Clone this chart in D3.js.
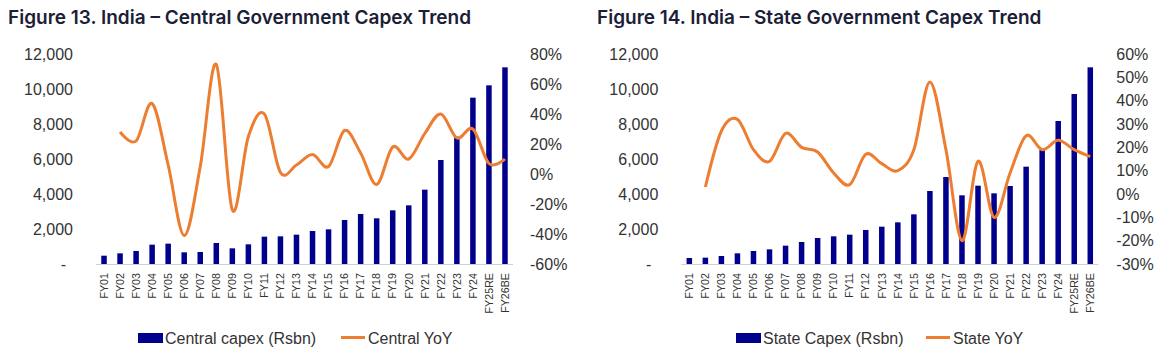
<!DOCTYPE html>
<html>
<head>
<meta charset="utf-8">
<script src="https://cdn.jsdelivr.net/npm/d3@7"></script>
<style>
  body { margin: 0; background: #fff; }
  svg { display: block; }
  .title { font-family: Inter, "Noto Sans", sans-serif; font-weight: 600; fill: #1b2036; }
  .ax text { font-family: "Liberation Sans", Arial, sans-serif; fill: #333; }
</style>
</head>
<body>
<svg id="chart"></svg>
<script>
// Data
var categories = ["FY01","FY02","FY03","FY04","FY05","FY06","FY07","FY08","FY09","FY10",
  "FY11","FY12","FY13","FY14","FY15","FY16","FY17","FY18","FY19","FY20",
  "FY21","FY22","FY23","FY24","FY25RE","FY26BE"];

var centralCapex = [475, 610, 743, 1105, 1162, 667, 686, 1200, 895, 1124, 1562, 1581, 1676,
  1886, 1981, 2514, 2857, 2610, 3067, 3352, 4248, 5943, 7276, 9505, 10210, 11238];
var centralYoY = [null, 28, 22, 47, 6, -41, 5, 73, -24, 25, 40, 1, 6,
  13, 5, 29, 14, -7, 18, 10, 27, 40, 24, 30, 7, 10];

var stateCapex = [343, 362, 457, 610, 743, 838, 1048, 1257, 1486, 1581, 1676, 1943, 2133,
  2381, 2838, 4171, 4971, 3924, 4476, 4038, 4457, 5562, 6514, 8171, 9714, 11238];
var stateYoY = [null, 3, 27, 32, 19, 14, 26, 20, 18, 9, 4, 17, 13,
  10, 19, 48, 19, -20, 14, -10, 9, 25, 19, 23, 19, 16];

var capexTicks = [0, 2000, 4000, 6000, 8000, 10000, 12000];
var centralPctTicks = [-60, -40, -20, 0, 20, 40, 60, 80];
var statePctTicks = [-30, -20, -10, 0, 10, 20, 30, 40, 50, 60];

var barColor = "#00008c", lineColor = "#ed7d31";

var svg = d3.select("#chart").attr("width", 1176).attr("height", 364);

function drawPanel(p) {
  var g = svg.append("g").attr("transform", "translate(" + p.x0 + ",0)");

  g.append("text").attr("class", "title")
    .attr("x", p.titleX).attr("y", 24)
    .style("font-size", "19px")
    .text(p.title);

  var x = d3.scaleBand().domain(categories).range([p.left, p.left + 417]);
  var y = d3.scaleLinear().domain([0, 12000]).range([264, 54]);
  var y2 = d3.scaleLinear().domain(d3.extent(p.pctTicks)).range([264, 54]);

  // left axis
  var fmt = d3.format(",");
  var la = g.append("g").attr("class", "ax");
  la.selectAll("text").data(capexTicks).join("text")
    .attr("x", function(d) { return d === 0 ? p.left - 30 : p.left - 23; })
    .attr("y", function(d) { return y(d); })
    .attr("dy", "0.35em")
    .attr("text-anchor", "end")
    .style("font-size", "16px")
    .text(function(d) { return d === 0 ? "-" : fmt(d); });

  // right axis
  var ra = g.append("g").attr("class", "ax");
  ra.selectAll("text").data(p.pctTicks).join("text")
    .attr("x", p.left + 417 + p.rightGap)
    .attr("y", function(d) { return y2(d); })
    .attr("dy", "0.35em")
    .style("font-size", "16px")
    .text(function(d) { return d + "%"; });

  // bars
  var bw = 5.5;
  g.selectAll("rect.bar").data(p.bars).join("rect").attr("class", "bar")
    .attr("x", function(d, i) { return x(categories[i]) + x.bandwidth() / 2 - bw / 2; })
    .attr("y", function(d) { return y(d); })
    .attr("width", bw)
    .attr("height", function(d) { return y(0) - y(d); })
    .attr("fill", barColor);

  // baseline
  g.append("line")
    .attr("x1", p.left).attr("x2", p.left + 417)
    .attr("y1", y(0) + 0.5).attr("y2", y(0) + 0.5)
    .attr("stroke", "#d0d0d0").attr("stroke-width", 1);

  // x labels
  var xa = g.append("g").attr("class", "ax");
  xa.selectAll("text").data(categories).join("text")
    .attr("transform", function(d) {
      return "translate(" + (x(d) + x.bandwidth() / 2) + ",273) rotate(-90)";
    })
    .attr("dy", "0.35em")
    .attr("text-anchor", "end")
    .style("font-size", "10.7px")
    .text(function(d) { return d; });

  // line
  var pts = p.yoy.map(function(v, i) { return [x(categories[i]) + x.bandwidth() / 2, v]; })
    .filter(function(d) { return d[1] !== null; });
  var line = d3.line()
    .x(function(d) { return d[0]; })
    .y(function(d) { return y2(d[1]); })
    .curve(d3.curveCardinal);
  g.append("path").datum(pts)
    .attr("d", line)
    .attr("fill", "none")
    .attr("stroke", lineColor)
    .attr("stroke-width", 3)
    .attr("stroke-linejoin", "round");

  // legend
  var lg = g.append("g").attr("class", "ax");
  lg.append("rect").attr("x", p.legX).attr("y", 333).attr("width", 25).attr("height", 10)
    .attr("fill", barColor);
  lg.append("text").attr("x", p.legX + 27).attr("y", 338).attr("dy", "0.35em")
    .style("font-size", "16px").text(p.barLabel);
  lg.append("line").attr("x1", p.legX2).attr("x2", p.legX2 + 24)
    .attr("y1", 337.5).attr("y2", 337.5)
    .attr("stroke", lineColor).attr("stroke-width", 3);
  lg.append("text").attr("x", p.legX2 + 27).attr("y", 338).attr("dy", "0.35em")
    .style("font-size", "16px").text(p.lineLabel);
}

drawPanel({
  x0: 0, titleX: 8, left: 96, rightGap: 17,
  title: "Figure 13. India – Central Government Capex Trend",
  bars: centralCapex, yoy: centralYoY, pctTicks: centralPctTicks,
  barLabel: "Central capex (Rsbn)", lineLabel: "Central YoY",
  legX: 138, legX2: 341
});

drawPanel({
  x0: 0, titleX: 597, left: 681.3, rightGap: 18,
  title: "Figure 14. India – State Government Capex Trend",
  bars: stateCapex, yoy: stateYoY, pctTicks: statePctTicks,
  barLabel: "State Capex (Rsbn)", lineLabel: "State YoY",
  legX: 736, legX2: 926
});
</script>
</body>
</html>
